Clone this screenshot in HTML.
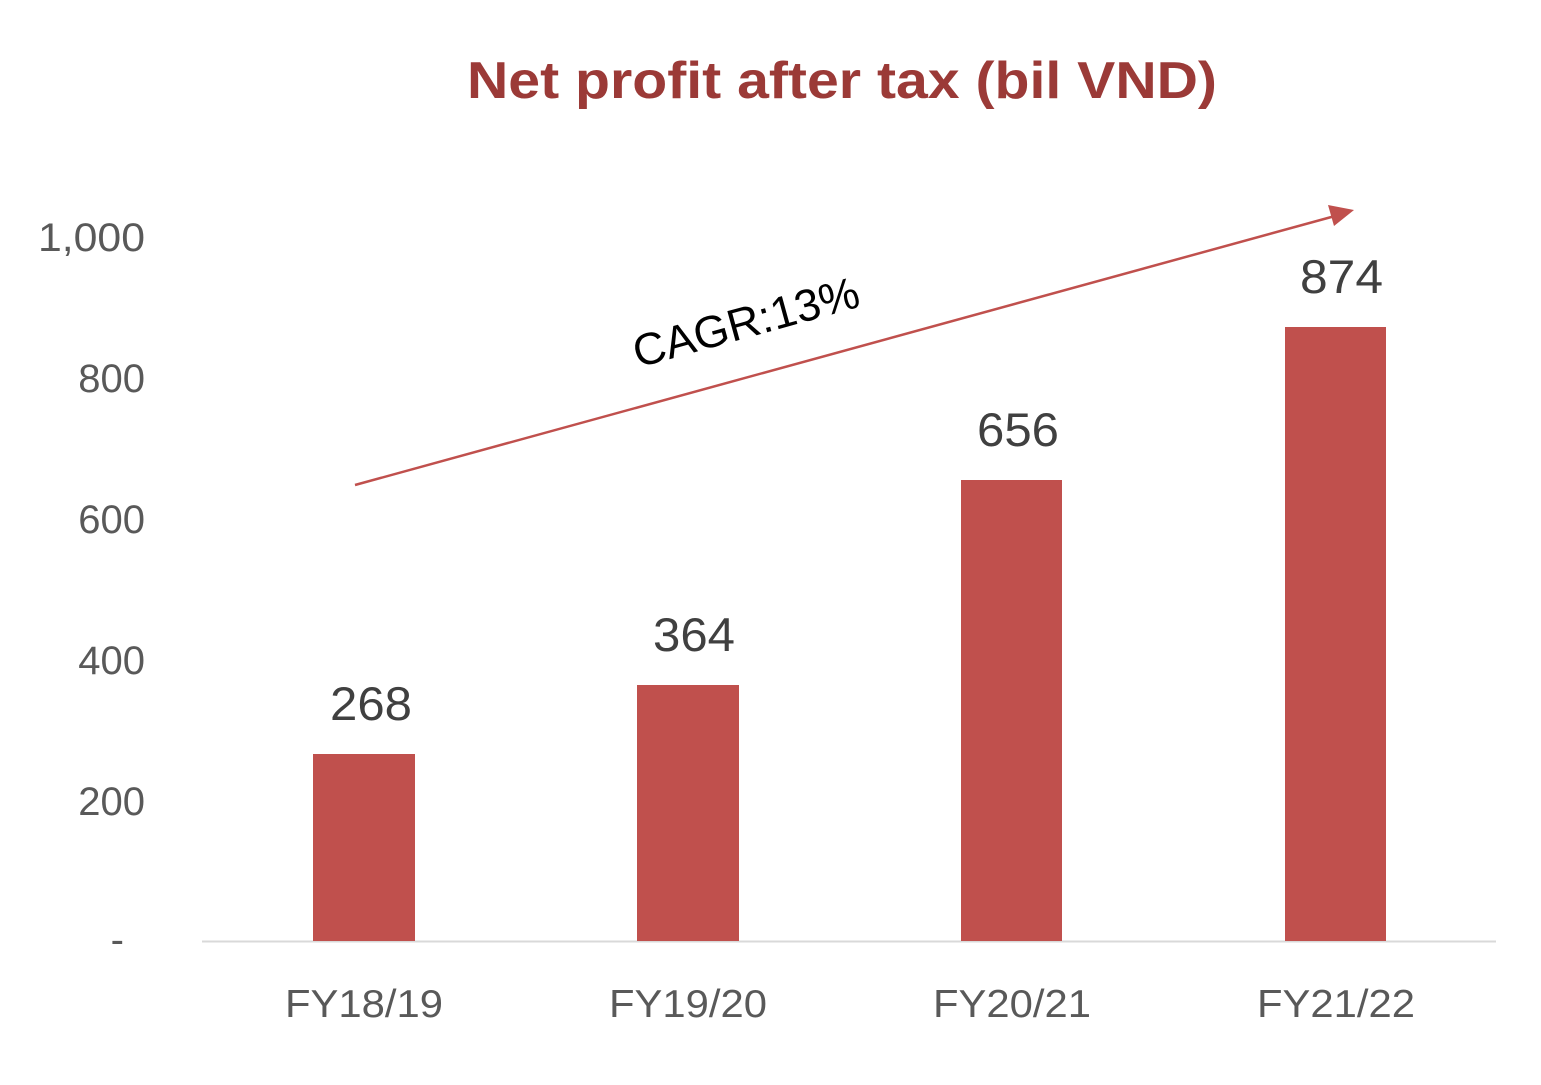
<!DOCTYPE html>
<html><head><meta charset="utf-8"><style>
html,body{margin:0;padding:0;background:#fff;}
body{width:1541px;height:1080px;overflow:hidden;}
</style></head><body>
<svg width="1541" height="1080" xmlns="http://www.w3.org/2000/svg" font-family="Liberation Sans, sans-serif">
<text x="467" y="98" font-size="52" font-weight="bold" fill="#9b3a37" textLength="750" lengthAdjust="spacingAndGlyphs">Net profit after tax (bil VND)</text>
<g font-size="40" fill="#595959">
<text x="38" y="251" textLength="107" lengthAdjust="spacingAndGlyphs">1,000</text>
<text x="145" y="392" text-anchor="end">800</text>
<text x="145" y="533" text-anchor="end">600</text>
<text x="145" y="674" text-anchor="end">400</text>
<text x="145" y="815" text-anchor="end">200</text>
<text x="124" y="953" text-anchor="end">-</text>
</g>
<line x1="202" y1="941.5" x2="1496" y2="941.5" stroke="#d9d9d9" stroke-width="2"/>
<g fill="#c0504d">
<rect x="313" y="754" width="102" height="187"/>
<rect x="637" y="685" width="102" height="256"/>
<rect x="961" y="480" width="101" height="461"/>
<rect x="1285" y="327" width="101" height="614"/>
</g>
<g font-size="47" fill="#404040">
<text x="330" y="720" textLength="82" lengthAdjust="spacingAndGlyphs">268</text>
<text x="653" y="651" textLength="82" lengthAdjust="spacingAndGlyphs">364</text>
<text x="977" y="446" textLength="82" lengthAdjust="spacingAndGlyphs">656</text>
<text x="1300" y="293" textLength="83" lengthAdjust="spacingAndGlyphs">874</text>
</g>
<g font-size="39" fill="#595959">
<text x="285" y="1017" textLength="158" lengthAdjust="spacingAndGlyphs">FY18/19</text>
<text x="609" y="1017" textLength="158" lengthAdjust="spacingAndGlyphs">FY19/20</text>
<text x="933" y="1017" textLength="158" lengthAdjust="spacingAndGlyphs">FY20/21</text>
<text x="1257" y="1017" textLength="158" lengthAdjust="spacingAndGlyphs">FY21/22</text>
</g>
<line x1="355" y1="485" x2="1335" y2="216" stroke="#c0504d" stroke-width="2.5"/>
<polygon points="1354,210 1328,205 1334,226" fill="#c0504d"/>
<text x="746" y="337" font-size="45" fill="#000" text-anchor="middle" transform="rotate(-15.4 748 322)">CAGR:13%</text>
</svg>
</body></html>
